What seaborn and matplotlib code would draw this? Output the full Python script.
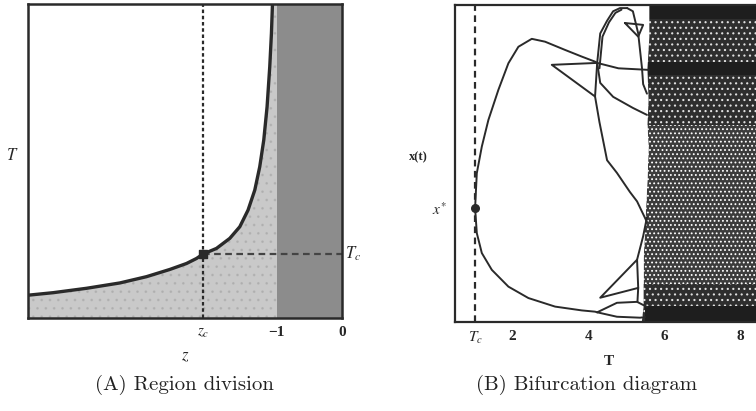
import numpy as np
import pandas as pd
import matplotlib
matplotlib.use("Agg")
import matplotlib.pyplot as plt
import seaborn as sns
from matplotlib.transforms import blended_transform_factory as btf

# ---------------- Panel A data (z, T) ----------------
curve_z = [-4.828, -4.442, -3.928, -3.415, -3.005, -2.646, -2.389, -2.235,
           -2.134, -1.928, -1.723, -1.569, -1.442, -1.338, -1.262, -1.200,
           -1.149, -1.108, -1.082, -1.066]
curve_T = [0.073, 0.081, 0.095, 0.112, 0.132, 0.155, 0.174, 0.190,
           0.204, 0.222, 0.254, 0.291, 0.344, 0.408, 0.482, 0.567,
           0.673, 0.800, 0.907, 1.0]
z_c, T_c = -2.134, 0.204
stable_z = -1.0
a_xlim = (-4.83, 0.0)
a_ylim = (0.0, 1.0)
a_ticks = [z_c, -1, 0]
a_ticklabels = [r"$z_c$", "\u22121", "0"]

# ---------------- Panel B data (T, x(t)) ----------------
Tc_b, x_star = 1.026, 0.359
b_xlim = (0.5, 8.6)
b_ylim = (0.0, 1.0)
b_ticks = [Tc_b, 2, 4, 6, 8]
b_ticklabels = [r"$T_c$", "2", "4", "6", "8"]

branches = {
    "upper":      ([1.026, 1.071, 1.203, 1.376, 1.639, 1.903, 2.166, 2.518, 2.868,
                    3.395, 3.834, 4.184, 4.24],
                   [0.359, 0.469, 0.553, 0.637, 0.732, 0.816, 0.868, 0.893, 0.884,
                    0.858, 0.837, 0.821, 0.817]),
    "lower":      ([1.026, 1.071, 1.203, 1.466, 1.903, 2.429, 3.132, 3.834, 4.184, 4.24],
                   [0.359, 0.280, 0.217, 0.164, 0.111, 0.075, 0.048, 0.036, 0.032, 0.03]),
    "swallow":    ([4.24, 3.045, 4.184, 4.24],
                   [0.817, 0.811, 0.711, 0.817]),
    "middle":     ([4.184, 4.3, 4.4, 4.5, 4.76, 5.1, 5.29, 5.55],
                   [0.711, 0.63, 0.57, 0.51, 0.47, 0.41, 0.38, 0.315]),
    "oval_left":  ([4.24, 4.32, 4.5, 4.66, 4.84, 5.03],
                   [0.817, 0.91, 0.95, 0.98, 0.99, 0.99]),
    "oval_left2": ([4.30, 4.38, 4.55, 4.72, 4.88],
                   [0.80, 0.90, 0.945, 0.975, 0.985]),
    "oval_right": ([5.03, 5.18, 5.32, 5.42, 5.45, 5.55],
                   [0.99, 0.98, 0.91, 0.80, 0.75, 0.72]),
    "horizontal": ([4.24, 4.8, 5.6],
                   [0.817, 0.80, 0.795]),
    "down_right": ([4.24, 4.32, 4.66, 5.18, 5.55],
                   [0.817, 0.754, 0.71, 0.675, 0.653]),
    "top_tri":    ([4.97, 5.45, 5.32, 4.97],
                   [0.943, 0.937, 0.90, 0.943]),
    "bot_upper":  ([4.24, 4.76, 5.29, 5.55],
                   [0.03, 0.06, 0.063, 0.047]),
    "bot_lower":  ([4.24, 4.76, 5.37, 5.5],
                   [0.03, 0.016, 0.013, 0.015]),
    "bot_tri":    ([5.32, 4.32, 5.29, 5.32, 5.3],
                   [0.107, 0.076, 0.196, 0.107, 0.063]),
    "bot_link":   ([5.29, 5.45, 5.55],
                   [0.196, 0.27, 0.33]),
}

# chaotic band: left boundary
chaos_x = [0.0, 0.05, 0.12, 0.2, 0.33, 0.45, 0.55, 0.62, 0.7, 0.8, 0.9, 1.0]
chaos_T = [5.4, 5.45, 5.45, 5.45, 5.5, 5.55, 5.58, 5.55, 5.58, 5.55, 5.6, 5.6]
# density bands (x ranges)
dense_bands = [(0.0, 0.12), (0.62, 1.0)]
stripe_bands = [(0.78, 0.82), (0.955, 1.0), (0.0, 0.05)]

# ---------------- styling ----------------
sns.set_theme(style="white")
plt.rcParams["font.family"] = ["Liberation Serif", "DejaVu Serif"]
plt.rcParams["mathtext.fontset"] = "stix"
plt.rcParams["hatch.linewidth"] = 0.8

fig = plt.figure(figsize=(7.56, 4.11), dpi=100)
axA = fig.add_axes([0.037, 0.226, 0.415, 0.764])
axB = fig.add_axes([0.602, 0.217, 0.407, 0.771])

ink = "#2a2a2a"

# ----- Panel A -----
fill_z = curve_z + [stable_z]
fill_T = curve_T + [a_ylim[1]]
axA.fill_between(fill_z, fill_T, a_ylim[0], color="#c9c9c9", lw=0, zorder=1)
axA.fill_between(fill_z, fill_T, a_ylim[0], facecolor="none", edgecolor="#707070",
                 hatch="..", lw=0, zorder=1.2, alpha=0.18)
axA.axvspan(stable_z, a_xlim[1], color="#8c8c8c", lw=0, zorder=1)
dfA = pd.DataFrame({"z": curve_z, "T": curve_T})
sns.lineplot(data=dfA, x="z", y="T", ax=axA, color=ink, lw=2.4, sort=False,
             estimator=None, zorder=3)
axA.axvline(z_c, color=ink, lw=1.6, ls=(0, (1.6, 1.2)), zorder=2)
axA.plot([z_c, a_xlim[1]], [T_c, T_c], color="#444444", lw=1.6,
         ls=(0, (3, 2)), zorder=2)
axA.scatter([z_c], [T_c], s=40, color=ink, marker="s", zorder=4)
axA.set_xlim(a_xlim)
axA.set_ylim(a_ylim)
axA.set_xticks(a_ticks)
axA.set_xticklabels(a_ticklabels, fontsize=11, fontweight="bold")
axA.set_yticks([])
axA.tick_params(axis="x", length=0, pad=6)
axA.set_xlabel("$z$", fontsize=12, labelpad=6)
axA.set_ylabel("$T$", fontsize=12, rotation=0, labelpad=6)
axA.yaxis.set_label_coords(-0.05, 0.49)
axA.text(1.01, T_c, r"$T_c$", transform=btf(axA.transAxes, axA.transData),
         fontsize=12, va="center", ha="left")
for s in axA.spines.values():
    s.set_color(ink)
    s.set_linewidth(1.8)

# ----- Panel B -----
axB.fill_betweenx(chaos_x, chaos_T, b_xlim[1], color="#3c3c3c", lw=0, zorder=1)
axB.fill_betweenx(chaos_x, chaos_T, b_xlim[1], facecolor="none", edgecolor="white",
                  hatch="....", lw=0, zorder=1.1)
for lo, hi in dense_bands:
    axB.fill_between([min(chaos_T), b_xlim[1]], lo, hi, color="#2e2e2e", lw=0, zorder=1.2)
    axB.fill_between([min(chaos_T), b_xlim[1]], lo, hi, facecolor="none",
                     edgecolor="#e0e0e0", hatch="...", lw=0, zorder=1.3)
for lo, hi in stripe_bands:
    axB.fill_between([min(chaos_T) + 0.1, b_xlim[1]], lo, hi, color="#1e1e1e",
                     lw=0, zorder=1.4)
# white mask to the left of chaos boundary
axB.fill_betweenx(chaos_x, b_xlim[0], chaos_T, color="white", lw=0, zorder=1.5)

for name, (tt, xx) in branches.items():
    dfb = pd.DataFrame({"T": tt, "x": xx})
    sns.lineplot(data=dfb, x="T", y="x", ax=axB, color=ink, lw=1.4, sort=False,
                 estimator=None, zorder=3)
axB.axvline(Tc_b, color=ink, lw=1.6, ls=(0, (3, 2)), zorder=2)
axB.scatter([Tc_b], [x_star], s=30, color=ink, zorder=4)
axB.set_xlim(b_xlim)
axB.set_ylim(b_ylim)
axB.set_xticks(b_ticks)
axB.set_xticklabels(b_ticklabels, fontsize=11, fontweight="bold")
axB.set_yticks([x_star])
axB.set_yticklabels([r"$x^{*}$"], fontsize=11)
axB.tick_params(axis="x", direction="in", length=4, color=ink, pad=6)
axB.tick_params(axis="y", direction="out", length=4, color=ink, pad=2)
axB.set_xlabel("T", fontsize=11, fontweight="bold", labelpad=6)
axB.set_ylabel("x(t)", fontsize=9, fontweight="bold", rotation=0, labelpad=6)
axB.yaxis.set_label_coords(-0.12, 0.5)
for s in axB.spines.values():
    s.set_color(ink)
    s.set_linewidth(1.6)

# ----- captions -----
fig.text(184 / 756, 1 - 385 / 411, "(A) Region division", family="cmr10",
         fontsize=15, ha="center", va="center", color="#222222")
fig.text(587 / 756, 1 - 385 / 411, "(B) Bifurcation diagram", family="cmr10",
         fontsize=15, ha="center", va="center", color="#222222")

fig.savefig("out.png", dpi=100)
